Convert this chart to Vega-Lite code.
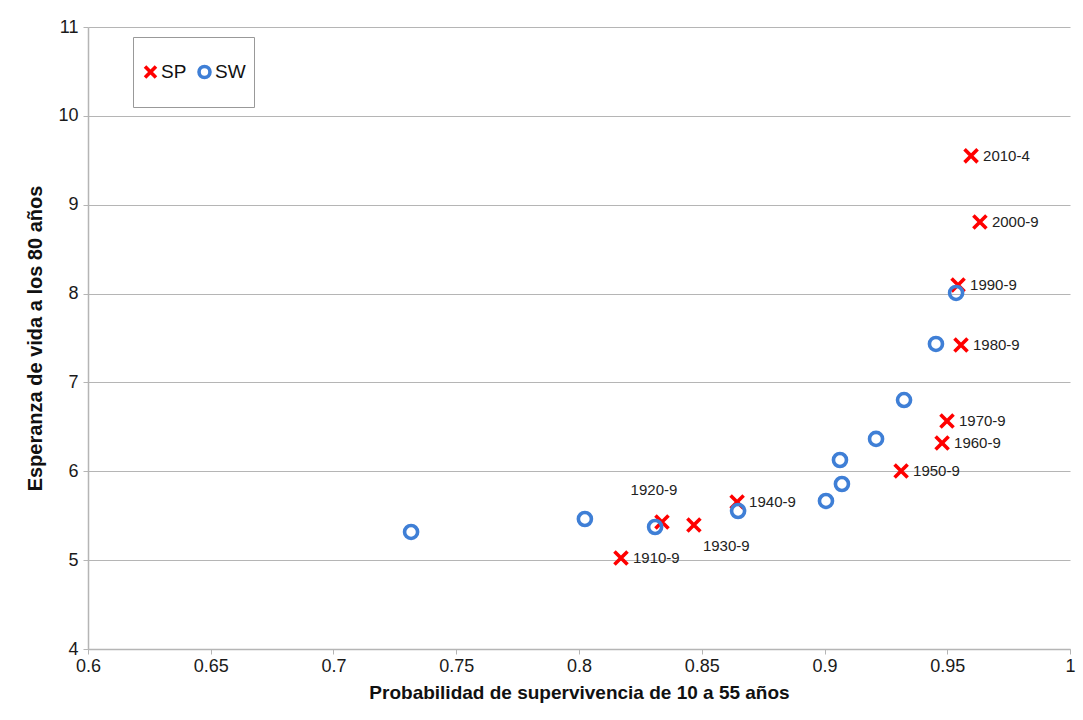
{
  "$schema": "https://vega.github.io/schema/vega-lite/v6.json",
  "width": 982,
  "height": 622,
  "autosize": {"type": "none"},
  "padding": {"left": 88, "top": 27, "right": 13, "bottom": 71},
  "background": "white",
  "config": {
    "font": "Liberation Sans",
    "view": {"stroke": null},
    "axis": {
      "labelFont": "Liberation Sans",
      "titleFont": "Liberation Sans",
      "labelFontSize": 18,
      "titleFontSize": 19,
      "labelColor": "#1a1a1a",
      "titleColor": "#111111",
      "domainColor": "#b5b5b5",
      "domainWidth": 1.5,
      "tickColor": "#b5b5b5",
      "tickSize": 5,
      "gridColor": "#b5b5b5",
      "gridWidth": 1.2
    }
  },
  "data": {
    "values": [
      {"serie": "SP", "p": 0.9597, "e": 9.55, "label": "2010-4"},
      {"serie": "SP", "p": 0.9633, "e": 8.806, "label": "2000-9"},
      {"serie": "SP", "p": 0.9544, "e": 8.097, "label": "1990-9"},
      {"serie": "SP", "p": 0.9556, "e": 7.421, "label": "1980-9"},
      {"serie": "SP", "p": 0.9499, "e": 6.566, "label": "1970-9"},
      {"serie": "SP", "p": 0.9479, "e": 6.318, "label": "1960-9"},
      {"serie": "SP", "p": 0.9312, "e": 6.003, "label": "1950-9"},
      {"serie": "SP", "p": 0.8644, "e": 5.655, "label": "1940-9"},
      {"serie": "SP", "p": 0.8468, "e": 5.396, "label": "1930-9"},
      {"serie": "SP", "p": 0.8338, "e": 5.43, "label": "1920-9"},
      {"serie": "SP", "p": 0.8171, "e": 5.024, "label": "1910-9"},
      {"serie": "SW", "p": 0.7316, "e": 5.317, "label": ""},
      {"serie": "SW", "p": 0.8024, "e": 5.463, "label": ""},
      {"serie": "SW", "p": 0.831, "e": 5.373, "label": ""},
      {"serie": "SW", "p": 0.8648, "e": 5.553, "label": ""},
      {"serie": "SW", "p": 0.9006, "e": 5.666, "label": ""},
      {"serie": "SW", "p": 0.9071, "e": 5.857, "label": ""},
      {"serie": "SW", "p": 0.9063, "e": 6.127, "label": ""},
      {"serie": "SW", "p": 0.921, "e": 6.364, "label": ""},
      {"serie": "SW", "p": 0.9324, "e": 6.802, "label": ""},
      {"serie": "SW", "p": 0.9454, "e": 7.433, "label": ""},
      {"serie": "SW", "p": 0.9536, "e": 8.007, "label": ""}
    ]
  },
  "encoding": {
    "x": {
      "field": "p",
      "type": "quantitative",
      "scale": {"domain": [0.6, 1], "nice": false, "zero": false},
      "axis": {
        "title": "Probabilidad de supervivencia de 10 a 55 años",
        "values": [0.6, 0.65, 0.7, 0.75, 0.8, 0.85, 0.9, 0.95, 1],
        "format": "~g",
        "grid": false,
        "labelPadding": 3,
        "titlePadding": 8,
        "labelFlush": false
      }
    },
    "y": {
      "field": "e",
      "type": "quantitative",
      "scale": {"domain": [4, 11], "nice": false, "zero": false},
      "axis": {
        "title": "Esperanza de vida a los 80 años",
        "titleFontSize": 20,
        "values": [4, 5, 6, 7, 8, 9, 10, 11],
        "grid": true,
        "labelPadding": 5,
        "titlePadding": 12
      }
    }
  },
  "layer": [
    {
      "mark": {"type": "point", "filled": false, "strokeWidth": 3.6, "size": 170, "opacity": 1},
      "encoding": {
        "shape": {
          "field": "serie",
          "type": "nominal",
          "scale": {"domain": ["SP", "SW"], "range": ["M-1,-1L1,1M1,-1L-1,1", "circle"]},
          "legend": {
            "title": null,
            "orient": "none",
            "legendX": 45,
            "legendY": 10,
            "direction": "horizontal",
            "strokeColor": "#999999",
            "fillColor": "white",
            "padding": 8,
            "clipHeight": 54,
            "labelFontSize": 19,
            "labelFont": "Liberation Sans",
            "labelColor": "#111111",
            "symbolSize": 120,
            "symbolStrokeWidth": 3.6,
            "labelOffset": 1,
            "columnPadding": 8
          }
        },
        "color": {
          "field": "serie",
          "type": "nominal",
          "scale": {"domain": ["SP", "SW"], "range": ["#ff0000", "#3f7fd6"]},
          "legend": {
            "title": null,
            "orient": "none",
            "legendX": 45,
            "legendY": 10,
            "direction": "horizontal",
            "strokeColor": "#999999",
            "fillColor": "white",
            "padding": 8,
            "clipHeight": 54,
            "labelFontSize": 19,
            "labelFont": "Liberation Sans",
            "labelColor": "#111111",
            "symbolSize": 120,
            "symbolStrokeWidth": 3.6,
            "labelOffset": 1,
            "columnPadding": 8
          }
        }
      }
    },
    {
      "transform": [{"filter": "datum.serie == 'SP' && datum.label != '1920-9' && datum.label != '1930-9'"}],
      "mark": {"type": "text", "align": "left", "baseline": "middle", "dx": 12, "fontSize": 15, "color": "#222222"},
      "encoding": {"text": {"field": "label"}}
    },
    {
      "transform": [{"filter": "datum.label == '1920-9'"}],
      "mark": {"type": "text", "align": "center", "baseline": "middle", "dx": -8, "dy": -32, "fontSize": 15, "color": "#222222"},
      "encoding": {"text": {"field": "label"}}
    },
    {
      "transform": [{"filter": "datum.label == '1930-9'"}],
      "mark": {"type": "text", "align": "left", "baseline": "middle", "dx": 9, "dy": 21, "fontSize": 15, "color": "#222222"},
      "encoding": {"text": {"field": "label"}}
    }
  ]
}
